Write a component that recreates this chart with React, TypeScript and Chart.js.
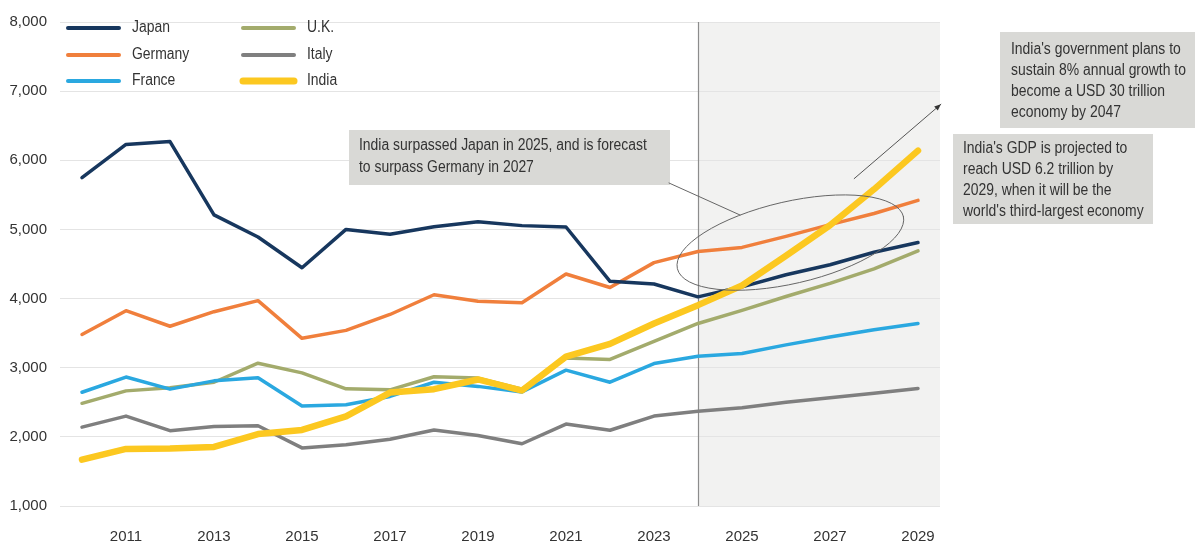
import React, { useEffect, useRef } from "react";
import { Chart, registerables } from "chart.js";

Chart.register(...registerables);

const years = ["2010","2011","2012","2013","2014","2015","2016","2017","2018","2019","2020","2021","2022","2023","2024","2025","2026","2027","2028","2029"];
const japan = [5750, 6230, 6270, 5210, 4890, 4445, 5000, 4930, 5040, 5110, 5055, 5035, 4250, 4210, 4025, 4170, 4345, 4490, 4670, 4810];
const germany = [3480, 3825, 3600, 3810, 3970, 3425, 3540, 3770, 4055, 3960, 3940, 4355, 4160, 4520, 4680, 4740, 4900, 5070, 5230, 5420];
const france = [2645, 2865, 2690, 2810, 2855, 2445, 2465, 2585, 2790, 2730, 2650, 2965, 2790, 3060, 3165, 3205, 3330, 3445, 3550, 3640];
const uk = [2485, 2665, 2710, 2790, 3065, 2925, 2695, 2680, 2870, 2850, 2690, 3140, 3120, 3380, 3640, 3830, 4030, 4220, 4430, 4690];
const italy = [2140, 2300, 2090, 2150, 2160, 1840, 1885, 1965, 2100, 2020, 1900, 2185, 2095, 2300, 2370, 2420, 2500, 2565, 2630, 2700];
const india = [1670, 1825, 1830, 1855, 2040, 2100, 2295, 2640, 2690, 2830, 2670, 3160, 3345, 3640, 3905, 4190, 4620, 5060, 5580, 6140];
const yTicks = [1000, 2000, 3000, 4000, 5000, 6000, 7000, 8000];

const seriesNames = ["Japan", "Germany", "France", "U.K.", "Italy", "India"];
const seriesData = [japan, germany, france, uk, italy, india];
const colors = ["#17375e", "#f07f3c", "#2aa8e0", "#a3ab6c", "#7f7f7f", "#fcc820"];
const widths = [3.5, 3.5, 3.5, 3.5, 3.5, 6.5];

const FONT = '"Liberation Sans Narrow", "Liberation Sans", Arial, sans-serif';
const TEXT = "#333333";
const SQUEEZE = 0.87;

const forecastStart = "2024";

const notes = {
  surpass: ["India surpassed Japan in 2025, and is forecast", "to surpass Germany in 2027"],
  growth: ["India's government plans to", "sustain 8% annual growth to", "become a USD 30 trillion", "economy by 2047"],
  gdp: ["India's GDP is projected to", "reach USD 6.2 trillion by", "2029, when it will be the", "world's third-largest economy"],
};

function narrowText(ctx: CanvasRenderingContext2D, text: string, x: number, y: number) {
  ctx.save();
  ctx.translate(x, y);
  ctx.scale(SQUEEZE, 1);
  ctx.fillText(text, 0, 0);
  ctx.restore();
}

const decor = {
  id: "decor",
  beforeDraw(chart: any) {
    const { ctx, chartArea, scales } = chart;
    const x0 = scales.x.getPixelForValue(years.indexOf(forecastStart));
    ctx.save();
    ctx.fillStyle = "#f2f2f1";
    ctx.fillRect(x0, chartArea.top, chartArea.right - x0, chartArea.bottom - chartArea.top);
    ctx.restore();
  },
  beforeDatasetsDraw(chart: any) {
    const { ctx, chartArea, scales } = chart;
    const x0 = Math.round(scales.x.getPixelForValue(years.indexOf(forecastStart))) + 0.5;
    ctx.save();
    ctx.strokeStyle = "#8c8c8c";
    ctx.lineWidth = 1.2;
    ctx.beginPath();
    ctx.moveTo(x0, chartArea.top);
    ctx.lineTo(x0, chartArea.bottom);
    ctx.stroke();
    ctx.restore();
  },
  afterDraw(chart: any) {
    const { ctx, scales } = chart;
    const xs = scales.x, ys = scales.y;
    ctx.save();
    // legend
    const cols = [68, 243];
    const rows = [28, 55, 81];
    ctx.font = `16px ${FONT}`;
    ctx.textBaseline = "middle";
    ctx.lineCap = "round";
    seriesNames.forEach((name, i) => {
      const c = Math.floor(i / 3), r = i % 3;
      const lx = cols[c], ly = rows[r];
      ctx.strokeStyle = colors[i];
      ctx.lineWidth = i === 5 ? 7 : 4;
      ctx.beginPath();
      ctx.moveTo(lx, ly);
      ctx.lineTo(lx + 51, ly);
      ctx.stroke();
      ctx.fillStyle = TEXT;
      narrowText(ctx, name, lx + 64, ly);
    });

    // ellipse
    const ecx = xs.getPixelForValue(16.1);
    const ecy = ys.getPixelForValue(4810);
    ctx.strokeStyle = "#666666";
    ctx.lineWidth = 1;
    ctx.beginPath();
    ctx.ellipse(ecx, ecy, 116, 41, (-13 * Math.PI) / 180, 0, Math.PI * 2);
    ctx.stroke();

    // boxes
    const drawBox = (x: number, y: number, w: number, h: number, lines: string[], tx: number, ty: number, lh: number) => {
      ctx.fillStyle = "#d9d9d6";
      ctx.fillRect(x, y, w, h);
      ctx.fillStyle = TEXT;
      ctx.font = `16px ${FONT}`;
      ctx.textBaseline = "middle";
      lines.forEach((l, i) => narrowText(ctx, l, tx, ty + i * lh));
    };
    drawBox(349, 130, 321, 55, notes.surpass, 359, 146, 22);
    drawBox(1000, 32, 195, 96, notes.growth, 1011, 50, 21);
    drawBox(953, 134, 200, 90, notes.gdp, 963, 149, 21);

    // connector from box to ellipse
    ctx.strokeStyle = "#666666";
    ctx.lineWidth = 1;
    ctx.beginPath();
    ctx.moveTo(669, 183);
    ctx.lineTo(740, 215);
    ctx.stroke();

    // arrow
    const ax0 = xs.getPixelForValue(17.55), ay0 = ys.getPixelForValue(5735);
    const ax1 = xs.getPixelForValue(19.52), ay1 = ys.getPixelForValue(6810);
    ctx.strokeStyle = "#555555";
    ctx.fillStyle = "#333333";
    ctx.lineWidth = 1;
    ctx.beginPath();
    ctx.moveTo(ax0, ay0);
    ctx.lineTo(ax1, ay1);
    ctx.stroke();
    const ang = Math.atan2(ay1 - ay0, ax1 - ax0);
    ctx.beginPath();
    ctx.moveTo(ax1, ay1);
    ctx.lineTo(ax1 - 7 * Math.cos(ang - 0.4), ay1 - 7 * Math.sin(ang - 0.4));
    ctx.lineTo(ax1 - 7 * Math.cos(ang + 0.4), ay1 - 7 * Math.sin(ang + 0.4));
    ctx.closePath();
    ctx.fill();
    ctx.restore();
  },
};

export default function App() {
  const ref = useRef<HTMLCanvasElement>(null);
  useEffect(() => {
    const prev = document.body.style.margin;
    document.body.style.margin = "0";
    if (!ref.current) return;
    const chart = new Chart(ref.current, {
      type: "line",
      data: {
        labels: years,
        datasets: seriesNames.map((n, i) => ({
          label: n,
          data: seriesData[i],
          borderColor: colors[i],
          backgroundColor: colors[i],
          borderWidth: widths[i],
          pointRadius: 0,
          tension: 0,
          borderJoinStyle: "round" as const,
          borderCapStyle: "round" as const,
          order: i === 5 ? 0 : 1,
        })),
      },
      options: {
        animation: false,
        responsive: false,
        maintainAspectRatio: false,
        layout: { padding: { top: 18, right: 255, left: 0, bottom: 0 } },
        plugins: { legend: { display: false }, tooltip: { enabled: false } },
        scales: {
          x: {
            type: "category",
            offset: true,
            grid: { display: false, drawTicks: false },
            border: { display: false },
            ticks: {
              autoSkip: false,
              maxRotation: 0,
              padding: 22,
              color: TEXT,
              font: { family: FONT, size: 15 },
              callback: (_v: any, i: number) => (Number(years[i]) % 2 === 1 ? years[i] : ""),
            },
            afterFit: (s: any) => { s.height = 42; },
          },
          y: {
            min: 1000,
            max: 8000,
            afterBuildTicks: (s: any) => { s.ticks = yTicks.map((v) => ({ value: v })); },
            grid: { color: "#e4e4e4", drawTicks: false, lineWidth: 1 },
            border: { display: false },
            ticks: {
              padding: 13,
              color: TEXT,
              font: { family: FONT, size: 15 },
              callback: (v: any) => Number(v).toLocaleString("en-US"),
            },
            afterFit: (s: any) => { s.width = 60; },
          },
        },
      },
      plugins: [decor],
    });
    return () => {
      chart.destroy();
      document.body.style.margin = prev;
    };
  }, []);
  return (
    <div style={{ width: 1195, height: 548, background: "#ffffff" }}>
      <canvas ref={ref} width={1195} height={548} style={{ display: "block", width: 1195, height: 548 }} />
    </div>
  );
}
